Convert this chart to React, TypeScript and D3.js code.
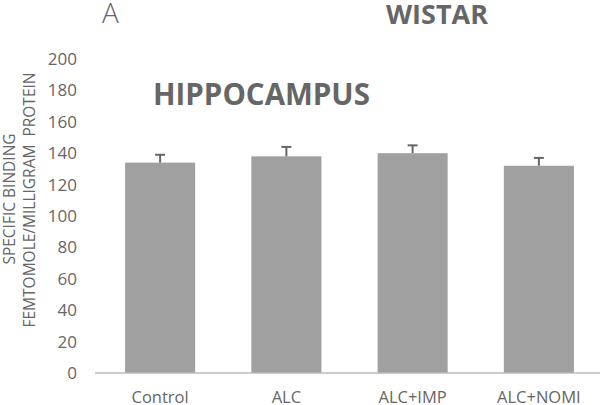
import React from "react";
import * as d3 from "d3";

const categories = ["Control", "ALC", "ALC+IMP", "ALC+NOMI"];
const values = [134, 138, 140, 132];
const errors = [5, 6, 5, 5];
const yTicks = [0, 20, 40, 60, 80, 100, 120, 140, 160, 180, 200];

const W = 600;
const H = 405;
const font = "'Open Sans', 'Liberation Sans', sans-serif";

export default function App() {
  const x = d3.scaleBand<string>().domain(categories).range([97, 602]).paddingInner(0.445).paddingOuter(0.2225);
  const y = d3.scaleLinear().domain([0, 200]).range([373, 59]);
  return (
    <svg width={W} height={H} style={{ position: "absolute", left: 0, top: 0 }} fontFamily={font}>
      <rect width={W} height={H} fill="#fff" />
      <text x={102} y={23} fontSize={28} fill="#666" fontWeight={300}>A</text>
      <text x={386} y={24} fontSize={27} fill="#666" fontWeight={700}>WISTAR</text>
      <text x={153} y={105} fontSize={29.5} fill="#666" fontWeight={700}>HIPPOCAMPUS</text>
      {yTicks.map((t) => (
        <text key={t} x={77} y={y(t)} dy="0.35em" textAnchor="end" fontSize={17} fill="#666">{t}</text>
      ))}
      <text transform="translate(15,199) rotate(-90)" textAnchor="middle" fontSize={15.5} fill="#666">SPECIFIC BINDING</text>
      <text transform="translate(35,200) rotate(-90)" textAnchor="middle" fontSize={15.5} fill="#666" style={{ whiteSpace: "pre" }}>FEMTOMOLE/MILLIGRAM  PROTEIN</text>
      {categories.map((c, i) => {
        const bx = x(c)!;
        const cx = bx + x.bandwidth() / 2;
        return (
          <g key={c}>
            <rect x={bx} y={y(values[i])} width={x.bandwidth()} height={y(0) - y(values[i])} fill="#a0a0a0" />
            <line x1={cx} x2={cx} y1={y(values[i])} y2={y(values[i] + errors[i])} stroke="#666" strokeWidth={2} />
            <line x1={cx - 5} x2={cx + 5} y1={y(values[i] + errors[i])} y2={y(values[i] + errors[i])} stroke="#666" strokeWidth={2} />
            <text x={cx} y={403} textAnchor="middle" fontSize={16.5} fill="#666">{c}</text>
          </g>
        );
      })}
      <line x1={95} x2={600} y1={y(0)} y2={y(0)} stroke="#bbb" strokeWidth={1.5} />
    </svg>
  );
}
